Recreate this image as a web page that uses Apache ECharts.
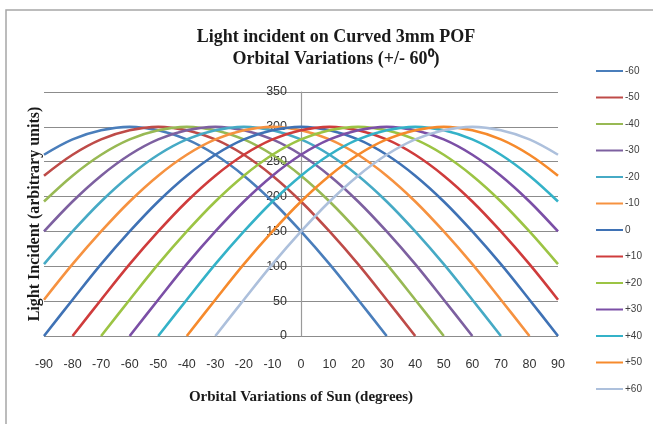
<!DOCTYPE html>
<html>
<head>
<meta charset="utf-8">
<script src="https://cdn.jsdelivr.net/npm/echarts@6/dist/echarts.min.js"></script>
<style>
  html, body { margin: 0; padding: 0; background: #fff; }
  #chart { width: 653px; height: 424px; }
</style>
</head>
<body>
<div id="chart"></div>
<script>
// x positions (degrees)
const degrees = [-90, -80, -70, -60, -50, -40, -30, -20, -10, 0, 10, 20, 30, 40, 50, 60, 70, 80, 90]
const yTicks = [0, 50, 100, 150, 200, 250, 300, 350]

const seriesNames = ['-60', '-50', '-40', '-30', '-20', '-10', '0', '+10', '+20', '+30', '+40', '+50', '+60']
const seriesColors = ['#4a7ebb', '#be4b48', '#98b954', '#7d60a0', '#46aac5', '#f69240',
  '#3f72b5', '#cf3c3c', '#9cc444', '#7b4fa6', '#34b2c8', '#f68a2c', '#adc0dc']

const m60 = [260, 282, 295, 300, 295, 282, 260, 230, 193, 150, 103, 52, 0, null, null, null, null, null, null]
const m50 = [230, 260, 282, 295, 300, 295, 282, 260, 230, 193, 150, 103, 52, 0, null, null, null, null, null]
const m40 = [193, 230, 260, 282, 295, 300, 295, 282, 260, 230, 193, 150, 103, 52, 0, null, null, null, null]
const m30 = [150, 193, 230, 260, 282, 295, 300, 295, 282, 260, 230, 193, 150, 103, 52, 0, null, null, null]
const m20 = [103, 150, 193, 230, 260, 282, 295, 300, 295, 282, 260, 230, 193, 150, 103, 52, 0, null, null]
const m10 = [52, 103, 150, 193, 230, 260, 282, 295, 300, 295, 282, 260, 230, 193, 150, 103, 52, 0, null]
const zero = [0, 52, 103, 150, 193, 230, 260, 282, 295, 300, 295, 282, 260, 230, 193, 150, 103, 52, 0]
const p10 = [null, 0, 52, 103, 150, 193, 230, 260, 282, 295, 300, 295, 282, 260, 230, 193, 150, 103, 52]
const p20 = [null, null, 0, 52, 103, 150, 193, 230, 260, 282, 295, 300, 295, 282, 260, 230, 193, 150, 103]
const p30 = [null, null, null, 0, 52, 103, 150, 193, 230, 260, 282, 295, 300, 295, 282, 260, 230, 193, 150]
const p40 = [null, null, null, null, 0, 52, 103, 150, 193, 230, 260, 282, 295, 300, 295, 282, 260, 230, 193]
const p50 = [null, null, null, null, null, 0, 52, 103, 150, 193, 230, 260, 282, 295, 300, 295, 282, 260, 230]
const p60 = [null, null, null, null, null, null, 0, 52, 103, 150, 193, 230, 260, 282, 295, 300, 295, 282, 260]

const seriesValues = [m60, m50, m40, m30, m20, m10, zero, p10, p20, p30, p40, p50, p60]

const chart = echarts.init(document.getElementById('chart'))

const series = seriesValues.map((vals, i) => ({
  name: seriesNames[i],
  type: 'line',
  smooth: 0.35,
  symbol: 'none',
  connectNulls: false,
  lineStyle: { width: 2.6, color: seriesColors[i] },
  itemStyle: { color: seriesColors[i] },
  data: degrees.map((d, j) => [d, vals[j]])
}))

chart.setOption({
  animation: false,
  backgroundColor: '#fff',
  graphic: [{
    type: 'rect',
    shape: { x: 6, y: 10, width: 680, height: 440 },
    style: { fill: 'none', stroke: '#a6a6a6', lineWidth: 1.5 },
    silent: true
  }],
  title: {
    text: 'Light incident on Curved 3mm POF\nOrbital Variations (+/- 60⁰)',
    left: 331,
    textAlign: 'center',
    top: 21,
    textStyle: {
      fontFamily: 'Liberation Serif',
      fontWeight: 'bold',
      fontSize: 18,
      lineHeight: 22,
      color: '#1a1a1a'
    }
  },
  legend: {
    orient: 'vertical',
    left: 591,
    top: 61,
    itemGap: 16.5,
    itemWidth: 27,
    itemHeight: 2,
    icon: 'rect',
    textStyle: { fontFamily: 'Liberation Sans', fontSize: 10, color: '#404040', padding: [0, 0, 0, -3] },
    data: seriesNames
  },
  grid: { left: 44, right: 95, top: 92, bottom: 88, outerBoundsMode: 'none' },
  xAxis: {
    type: 'value',
    min: -90,
    max: 90,
    interval: 10,
    name: 'Orbital Variations of Sun (degrees)',
    nameLocation: 'middle',
    nameGap: 54,
    nameTextStyle: { fontFamily: 'Liberation Serif', fontWeight: 'bold', fontSize: 15, color: '#1a1a1a' },
    axisLine: { show: false },
    axisTick: { show: false },
    splitLine: { show: false },
    axisLabel: { fontFamily: 'Liberation Sans', fontSize: 12.5, color: '#333', margin: 22 }
  },
  yAxis: {
    type: 'value',
    min: 0,
    max: 350,
    interval: 50,
    name: 'Light Incident (arbitrary units)',
    nameLocation: 'middle',
    nameRotate: 90,
    nameGap: 1,
    nameTextStyle: { fontFamily: 'Liberation Serif', fontWeight: 'bold', fontSize: 16, color: '#1a1a1a' },
    axisLine: { show: true, onZero: true, lineStyle: { color: '#9a9a9a', width: 1.2 } },
    axisTick: { show: false },
    splitLine: { show: true, lineStyle: { color: '#8c8c8c', width: 1 } },
    axisLabel: { fontFamily: 'Liberation Sans', fontSize: 12.5, color: '#333', margin: -243 }
  },
  series: series
})
</script>
</body>
</html>
